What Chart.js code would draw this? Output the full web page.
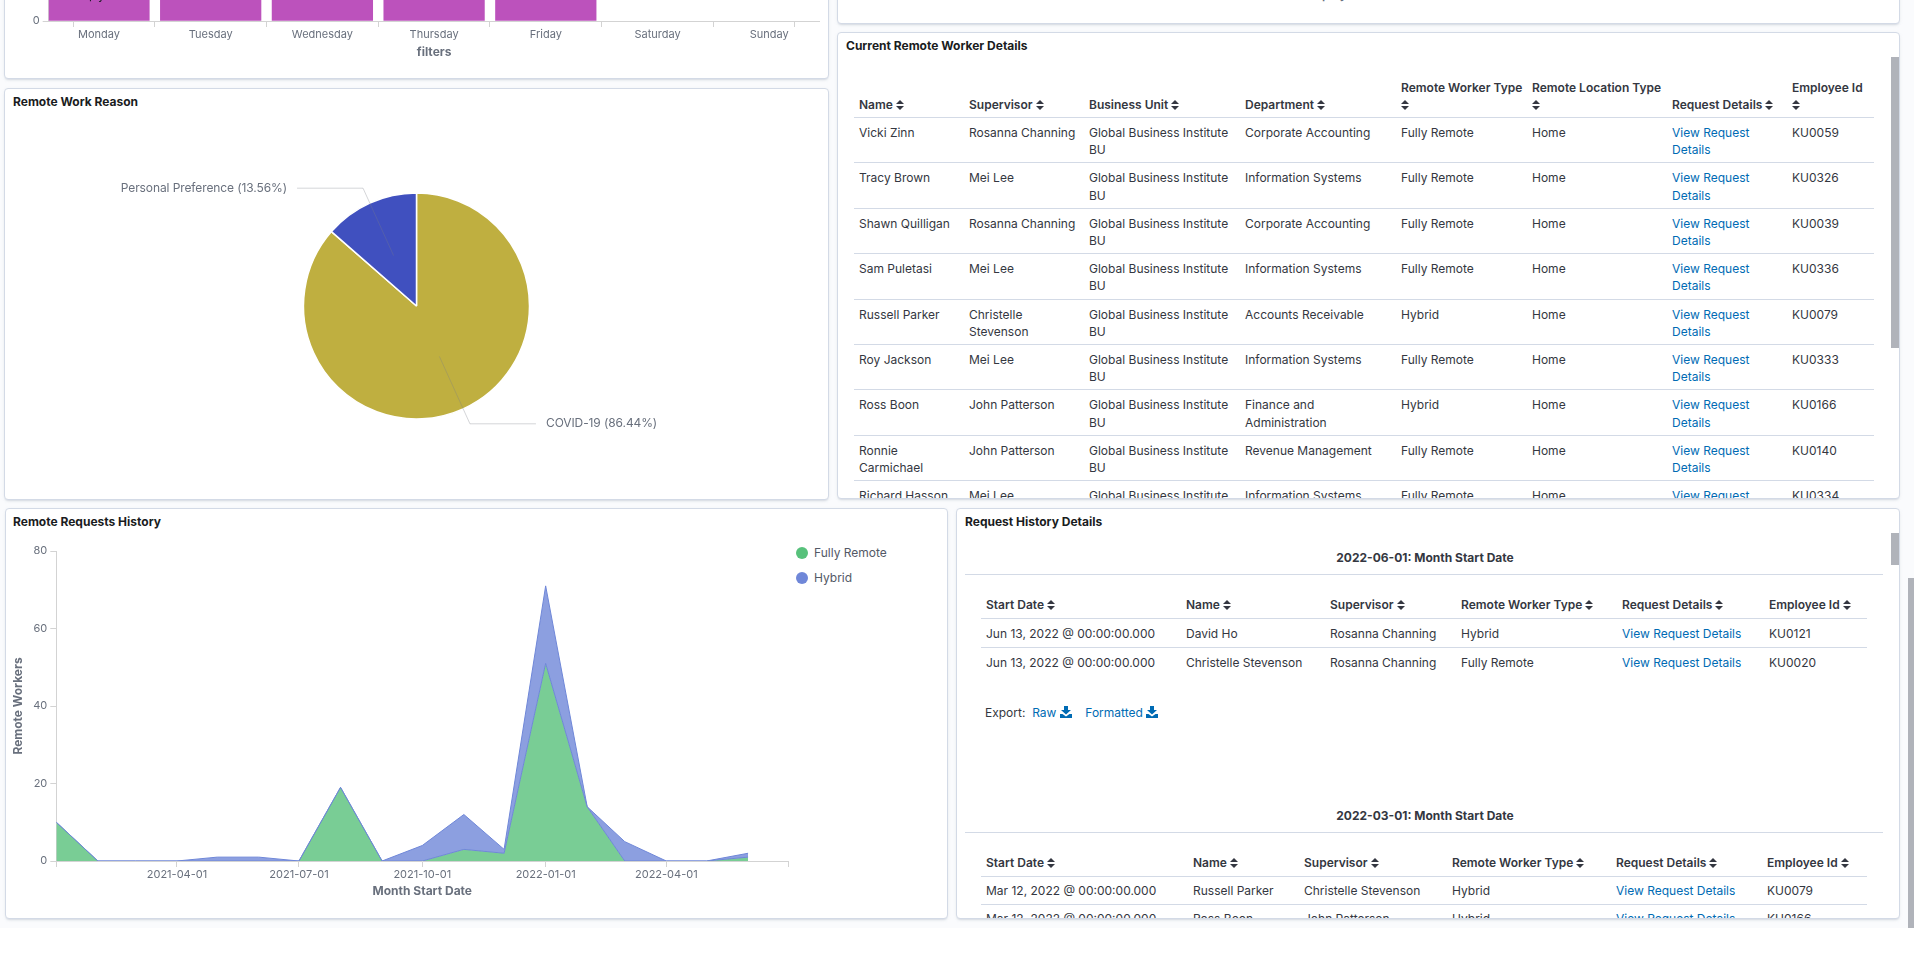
<!DOCTYPE html>
<html>
<head>
<meta charset="utf-8">
<title>Remote Work Dashboard</title>
<script src="https://cdn.jsdelivr.net/npm/chart.js@4"></script>
<style>
  html, body { margin: 0; padding: 0; background: #fff; }
  body { width: 1914px; height: 969px; overflow: hidden; position: relative; font-family: Inter, sans-serif; font-size: 12px; color: #343741; }
  #pageBg { position: absolute; left: 0; top: 0; width: 1914px; height: 928px; background: #fafbfd; }
  .panel { position: absolute; box-sizing: border-box; background: #fff; border: 1px solid #d3dae6; border-radius: 4px; overflow: hidden;
           box-shadow: 0 2px 2px -1px rgba(152,162,179,.3), 0 1px 5px -2px rgba(152,162,179,.3); }
  .title { position: absolute; font-weight: 700; line-height: 18px; color: #1a1c21; white-space: nowrap; }
  canvas { position: absolute; display: block; }
  .bar { position: absolute; background: #b0b3ba; }
  table { position: absolute; border-collapse: collapse; table-layout: fixed; }
  th { font-weight: 600; text-align: left; vertical-align: bottom; padding: 5px 5px 4px; line-height: 17px; color: #343741; border-bottom: 1px solid #d3dae6; }
  th span { white-space: nowrap; }
  td { text-align: left; vertical-align: top; padding: 6px 5px 3.7px; line-height: 17.3px; color: #343741; border-bottom: 1px solid #d3dae6; }
  tr:last-child td { border-bottom: 0; }
  a { color: #006bb4; text-decoration: none; }
  .history th { padding-bottom: 5px; }
  .history td { padding: 6px 5px 5px; line-height: 17px; }
  .history.tight td { padding: 5px 5px 5px; }
  .groupTitle { position: absolute; left: 8px; width: 920px; text-align: center; font-weight: 700; line-height: 18px; }
  .rule { position: absolute; left: 8px; width: 918px; height: 1px; background: #d3dae6; }
  .export { position: absolute; left: 28px; line-height: 18px; white-space: nowrap; }
  .legendItem { position: absolute; left: 814px; line-height: 18px; color: #535966; white-space: nowrap; }
  .legendDot { position: absolute; left: 796px; width: 12px; height: 12px; border-radius: 50%; }
</style>
</head>
<body>
<div id="pageBg"></div>

<div class="panel" style="left:4px;top:-331px;width:825px;height:410px"></div>
<div class="panel" style="left:837px;top:-330px;width:1063px;height:354px">
  <div style="position:absolute;left:466px;top:315px;font-weight:600;color:#69707d;line-height:18px">Employee</div>
</div>
<div class="panel" style="left:4px;top:88px;width:825px;height:412px"></div>
<div class="panel" id="workerPanel" style="left:837px;top:32px;width:1063px;height:467px">
  <div class="bar" style="left:1053px;top:24px;width:8px;height:291px"></div>
</div>
<div class="panel" style="left:5px;top:508px;width:943px;height:411px"></div>
<div class="panel" id="historyPanel" style="left:956px;top:508px;width:944px;height:411px">
  <div class="bar" style="left:934px;top:24px;width:8px;height:32px"></div>
</div>
<div class="bar" style="left:1908px;top:578px;width:6px;height:350px"></div>

<div class="title" style="left:13px;top:93px">Remote Work Reason</div>
<div class="title" style="left:13px;top:513px">Remote Requests History</div>
<div class="title" style="left:846px;top:37px">Current Remote Worker Details</div>
<div class="title" style="left:965px;top:513px">Request History Details</div>

<canvas id="dayChart" width="823" height="375" style="left:5px;top:-300px"></canvas>
<canvas id="reasonChart" width="823" height="380" style="left:5px;top:116px"></canvas>
<canvas id="historyChart" width="790" height="385" style="left:5px;top:530px"></canvas>
<div style="position:absolute;left:89px;top:-13px;color:#1a1c21;letter-spacing:2px;line-height:16px">py</div>
<div id="historyLegend"></div>

<script>
// bar chart at the top, it is scrolled off the page so only the base shows
const dayLabels = ['Monday', 'Tuesday', 'Wednesday', 'Thursday', 'Friday', 'Saturday', 'Sunday'];
const dayValues = [150, 150, 150, 150, 150, 0, 0];

// pie
const reasonLabels = ['COVID-19', 'Personal Preference'];
const reasonValues = [86.44, 13.56];
const reasonColors = ['#bfaf40', '#4050bf'];

// stacked area
const monthStarts = ['2021-01-01', '2021-02-01', '2021-03-01', '2021-04-01', '2021-05-01', '2021-06-01',
  '2021-07-01', '2021-08-01', '2021-09-01', '2021-10-01', '2021-11-01', '2021-12-01',
  '2022-01-01', '2022-02-01', '2022-03-01', '2022-04-01', '2022-05-01', '2022-06-01'];
const fullyRemote = [10, 0, 0, 0, 0, 0, 0, 19, 0, 0, 3, 2, 51, 14, 0, 0, 0, 1];
const hybrid = [0, 0, 0, 0, 1, 1, 0, 0, 0, 4, 9, 1, 20, 0, 5, 0, 0, 1];
const monthTicks = ['2021-04-01', '2021-07-01', '2021-10-01', '2022-01-01', '2022-04-01'];
const monthAxisStart = '2021-01-01';
const monthAxisEnd = '2022-07-01';
const workerTypes = ['Fully Remote', 'Hybrid'];
const workerTypeColors = ['#57c17b', '#6f87d8'];

// current remote workers table
const workerHeaders = ['Name', 'Supervisor', 'Business Unit', 'Department', 'Remote Worker Type', 'Remote Location Type', 'Request Details', 'Employee Id'];
const workerColWidths = [110, 120, 156, 156, 131, 140, 120, 87];
const workerNames = ['Vicki Zinn', 'Tracy Brown', 'Shawn Quilligan', 'Sam Puletasi', 'Russell Parker', 'Roy Jackson', 'Ross Boon', 'Ronnie Carmichael', 'Richard Hasson'];
const workerSupervisors = ['Rosanna Channing', 'Mei Lee', 'Rosanna Channing', 'Mei Lee', 'Christelle Stevenson', 'Mei Lee', 'John Patterson', 'John Patterson', 'Mei Lee'];
const workerDepartments = ['Corporate Accounting', 'Information Systems', 'Corporate Accounting', 'Information Systems', 'Accounts Receivable', 'Information Systems', 'Finance and Administration', 'Revenue Management', 'Information Systems'];
const workerRemoteTypes = ['Fully Remote', 'Fully Remote', 'Fully Remote', 'Fully Remote', 'Hybrid', 'Fully Remote', 'Hybrid', 'Fully Remote', 'Fully Remote'];
const workerIds = ['KU0059', 'KU0326', 'KU0039', 'KU0336', 'KU0079', 'KU0333', 'KU0166', 'KU0140', 'KU0334'];

// request history tables
const historyHeaders = ['Start Date', 'Name', 'Supervisor', 'Remote Worker Type', 'Request Details', 'Employee Id'];
const juneColWidths = [200, 144, 131, 161, 147, 103];
const juneRows = [
  ['Jun 13, 2022 @ 00:00:00.000', 'David Ho', 'Rosanna Channing', 'Hybrid', 'KU0121'],
  ['Jun 13, 2022 @ 00:00:00.000', 'Christelle Stevenson', 'Rosanna Channing', 'Fully Remote', 'KU0020']
];
const marchColWidths = [207, 111, 148, 164, 151, 105];
const marchRows = [
  ['Mar 12, 2022 @ 00:00:00.000', 'Russell Parker', 'Christelle Stevenson', 'Hybrid', 'KU0079'],
  ['Mar 12, 2022 @ 00:00:00.000', 'Ross Boon', 'John Patterson', 'Hybrid', 'KU0166']
];

const sortIcon = '<svg width="8" height="10" viewBox="0 0 8 10" style="vertical-align:-1px"><path d="M4 0L8 4H0zM4 10L0 6H8z" fill="#343741"/></svg>';
const downloadIcon = '<svg width="12" height="12" viewBox="0 0 12 12" style="vertical-align:-1px"><path d="M4 0H8V4H11L6 8.5L1 4H4zM0 8H2.5L6 10.5L9.5 8H12V12H0z" fill="#006bb4"/></svg>';

function headerRow(names) {
  return '<tr>' + names.map(n => '<th><span>' + n + '</span> ' + sortIcon + '</th>').join('') + '</tr>';
}
function colGroup(widths) {
  return '<colgroup>' + widths.map(w => '<col style="width:' + w + 'px">').join('') + '</colgroup>';
}
function totalWidth(widths) {
  return widths.reduce((a, b) => a + b, 0);
}

// worker table
let workerHtml = '<table style="left:16px;top:41px;width:' + totalWidth(workerColWidths) + 'px">' + colGroup(workerColWidths) + headerRow(workerHeaders);
for (let i = 0; i < workerNames.length; i++) {
  workerHtml += '<tr style="height:45.375px"><td>' + workerNames[i] + '</td><td>' + workerSupervisors[i] + '</td><td>Global Business Institute BU</td><td>'
    + workerDepartments[i] + '</td><td>' + workerRemoteTypes[i] + '</td><td>Home</td><td><a>View Request Details</a></td><td>' + workerIds[i] + '</td></tr>';
}
document.getElementById('workerPanel').insertAdjacentHTML('beforeend', workerHtml + '</table>');

// history tables
function historyTable(top, widths, rows, extraClass) {
  let html = '<table class="history ' + extraClass + '" style="left:24px;top:' + top + 'px;width:' + totalWidth(widths) + 'px">' + colGroup(widths) + headerRow(historyHeaders);
  rows.forEach(r => {
    html += '<tr><td>' + r[0] + '</td><td>' + r[1] + '</td><td>' + r[2] + '</td><td>' + r[3] + '</td><td><a>View Request Details</a></td><td>' + r[4] + '</td></tr>';
  });
  return html + '</table>';
}
document.getElementById('historyPanel').insertAdjacentHTML('beforeend',
  '<div class="groupTitle" style="top:40px">2022-06-01: Month Start Date</div><div class="rule" style="top:65px"></div>'
  + historyTable(81.5, juneColWidths, juneRows, '')
  + '<div class="export" style="top:195px">Export: &nbsp;<a>Raw ' + downloadIcon + '</a> &nbsp;&nbsp;&nbsp;<a>Formatted ' + downloadIcon + '</a></div>'
  + '<div class="groupTitle" style="top:298px">2022-03-01: Month Start Date</div><div class="rule" style="top:323px"></div>'
  + historyTable(339.5, marchColWidths, marchRows, 'tight'));

// legend for the area chart
document.getElementById('historyLegend').innerHTML = workerTypes.map((t, i) =>
  '<div class="legendDot" style="top:' + (547 + i * 24.5) + 'px;background:' + workerTypeColors[i] + '"></div>'
  + '<div class="legendItem" style="top:' + (544 + i * 24.5) + 'px">' + t + '</div>').join('');

// charts
Chart.defaults.font.family = 'Inter, sans-serif';
Chart.defaults.font.size = 11;
Chart.defaults.color = '#69707d';
Chart.defaults.animation = false;
Chart.defaults.responsive = false;

const axisGrey = '#d3d3d3';
const dayOf = s => Date.parse(s) / 864e5;
const axisTitle = (text, bottom) => ({ display: true, text: text, color: '#69707d', font: { size: 12, weight: '700' }, padding: { top: 0, bottom: bottom } });
const grid = { drawOnChartArea: false, tickLength: 6, tickColor: axisGrey };

// x is linear so the bands start right at the axis ends, as in the reference
const dayMin = -0.45, dayMax = 6.45;

new Chart(document.getElementById('dayChart'), {
  type: 'bar',
  data: {
    datasets: [{
      // zero days are left out, otherwise a thin purple line shows on the axis
      data: dayValues.map((v, i) => ({ x: i, y: v })).filter(p => p.y > 0),
      backgroundColor: '#bc52bc', barThickness: 100.6
    }]
  },
  options: {
    layout: { padding: { top: 20, right: 8.5 } },
    plugins: { legend: { display: false }, tooltip: { enabled: false } },
    scales: {
      x: {
        type: 'linear', offset: false, min: dayMin, max: dayMax, grid: grid, border: { color: axisGrey },
        afterBuildTicks(a) { a.ticks = [dayMin].concat(dayLabels.map((d, i) => i), [dayMax]).map(v => ({ value: v })); },
        afterFit(a) { a.height = 54; },
        ticks: { padding: 1, maxRotation: 0, autoSkip: false, color: '#69707d', callback(v) { return dayLabels[v] || ''; } },
        title: axisTitle('filters', 15)
      },
      y: { min: 0, max: 200, grid: grid, border: { color: axisGrey }, ticks: { stepSize: 50, padding: 3, color: '#69707d' }, afterFit(a) { a.width = 43.7; } }
    }
  }
});

// label lines go from half way inside the slice out to the label
const pieLabels = {
  id: 'pieLabels',
  afterDraw(chart) {
    const c = chart.ctx;
    chart.getDatasetMeta(0).data.forEach((arc, i) => {
      const mid = (arc.startAngle + arc.endAngle) / 2;
      const ux = Math.cos(mid), uy = Math.sin(mid);
      const inner = arc.outerRadius * 0.49, bend = arc.outerRadius * 1.145;
      const dir = ux < 0 ? -1 : 1;
      const bx = arc.x + ux * bend, by = arc.y + uy * bend;
      c.save();
      c.strokeStyle = 'rgba(120,125,135,0.32)';
      c.lineWidth = 1;
      c.beginPath();
      c.moveTo(arc.x + ux * inner, arc.y + uy * inner);
      c.lineTo(bx, by);
      c.lineTo(bx + dir * 66, by);
      c.stroke();
      c.fillStyle = '#69707d';
      c.font = '12px Inter, sans-serif';
      c.letterSpacing = '-0.1px';
      c.textBaseline = 'middle';
      c.textAlign = dir < 0 ? 'right' : 'left';
      c.fillText(reasonLabels[i] + ' (' + reasonValues[i].toFixed(2) + '%)', bx + dir * 76, by);
      c.restore();
    });
  }
};

new Chart(document.getElementById('reasonChart'), {
  type: 'pie',
  data: { labels: reasonLabels, datasets: [{ data: reasonValues, backgroundColor: reasonColors, borderColor: '#fff', borderWidth: 1.5, radius: 113 }] },
  options: { plugins: { legend: { display: false }, tooltip: { enabled: false } } },
  plugins: [pieLabels]
});

const toPoints = values => values.map((v, i) => ({ x: dayOf(monthStarts[i]), y: v }));
const tickDays = [monthAxisStart].concat(monthTicks, [monthAxisEnd]).map(dayOf);

new Chart(document.getElementById('historyChart'), {
  type: 'line',
  data: {
    datasets: [
      { label: workerTypes[0], data: toPoints(fullyRemote), fill: 'origin', backgroundColor: 'rgba(87,193,123,0.8)', borderColor: workerTypeColors[1], borderWidth: 1, pointRadius: 0, tension: 0 },
      { label: workerTypes[1], data: toPoints(hybrid), fill: '-1', backgroundColor: 'rgba(111,135,216,0.8)', borderColor: workerTypeColors[1], borderWidth: 1, pointRadius: 0, tension: 0 }
    ]
  },
  options: {
    layout: { padding: { top: 21, right: 6.7 } },
    plugins: { legend: { display: false }, tooltip: { enabled: false }, filler: { propagate: false } },
    scales: {
      x: {
        type: 'linear', min: dayOf(monthAxisStart), max: dayOf(monthAxisEnd), grid: grid, border: { color: axisGrey },
        afterBuildTicks(a) { a.ticks = tickDays.map(d => ({ value: d })); },
        afterFit(a) { a.height = 54; },
        ticks: {
          padding: 1, maxRotation: 0, autoSkip: false, color: '#69707d',
          callback(v) { const i = monthTicks.map(dayOf).indexOf(v); return i < 0 ? '' : monthTicks[i]; }
        },
        title: axisTitle('Month Start Date', 16)
      },
      y: {
        stacked: true, min: 0, max: 80, grid: grid, border: { color: axisGrey },
        ticks: { stepSize: 20, padding: 3, color: '#69707d' },
        title: { display: true, text: 'Remote Workers', color: '#69707d', font: { size: 12, weight: '700' }, padding: { top: 6, bottom: 0 } },
        afterFit(a) { a.width = 51.3; }
      }
    }
  }
});
</script>
</body>
</html>
